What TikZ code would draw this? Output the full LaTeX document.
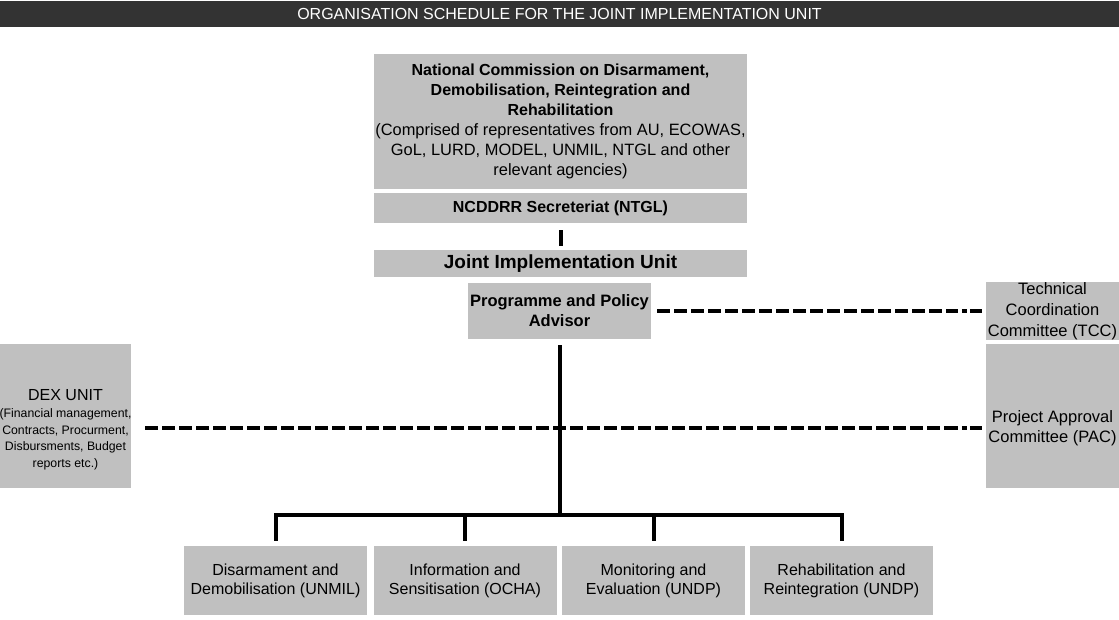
\documentclass[tikz,border=0pt]{standalone}
\usepackage{fontspec}
\setmainfont{Liberation Sans}
\definecolor{boxgray}{HTML}{C0C0C0}
\definecolor{bardark}{HTML}{333333}
\tikzset{
  box/.style={fill=boxgray, inner sep=0pt, align=center, text=black},
  boxtext/.style={inner sep=0pt, align=center, text=black},
  conn/.style={draw=black, line width=4pt},
  dashconn/.style={draw=black, line width=4pt, dash pattern=on 13pt off 4pt},
  dotconn/.style={draw=black, line width=4pt, dash pattern=on 5pt off 4pt on 5pt off 3pt on 12pt off 20pt},
}
\begin{document}
\begin{tikzpicture}[x=1pt,y=-1pt]
\useasboundingbox (0,0) rectangle (1119,619);
\fill[white] (0,0) rectangle (1119,619);
% title bar
\node[fill=bardark, inner sep=0pt, minimum width=1119pt, minimum height=26pt, text=white,
      font=\fontsize{16}{19}\selectfont] (title) at (559.5,14) {ORGANISATION SCHEDULE FOR THE JOINT IMPLEMENTATION UNIT};
% top hierarchy
\node[box, minimum width=373pt, minimum height=135pt, font=\fontsize{16.4}{20}\selectfont] (ncddrr) at (560.5,121.5)
  {{\bfseries\fontsize{16}{20}\selectfont National Commission on Disarmament,}\\
   {\bfseries\fontsize{16}{20}\selectfont Demobilisation, Reintegration and}\\
   {\bfseries\fontsize{16}{20}\selectfont Rehabilitation}\\
   (Comprised of representatives from AU, ECOWAS,\\
   GoL, LURD, MODEL, UNMIL, NTGL and other\\
   relevant agencies)};
\node[box, minimum width=373pt, minimum height=30pt, font=\bfseries\fontsize{16}{19}\selectfont] (sec) at (560.5,208) {NCDDRR Secreteriat (NTGL)};
\node[box, minimum width=373pt, minimum height=27pt, font=\bfseries\fontsize{19}{22}\selectfont] (jiu) at (560.5,263.5) {Joint Implementation Unit};
\node[box, minimum width=183pt, minimum height=56pt, font=\bfseries\fontsize{16.5}{20}\selectfont] (ppa) at (559.5,311) {Programme and Policy\\Advisor};
% side boxes
\node[box, minimum width=133pt, minimum height=56pt, font=\fontsize{16.5}{21}\selectfont] (tcc) at (1052.5,311) {Technical\\Coordination\\Committee (TCC)};
\node[box, minimum width=133pt, minimum height=144pt] (pac) at (1052.5,416) {};
\node[boxtext, font=\fontsize{16.5}{20}\selectfont] (pactext) at (1052.5,428) {Project Approval\\Committee (PAC)};
\node[box, minimum width=131pt, minimum height=144pt] (dex) at (65.5,416) {};
\node[boxtext, font=\fontsize{12.3}{16.7}\selectfont] (dextext) at (65.5,430)
  {{\fontsize{16}{18}\selectfont DEX UNIT}\\
   (Financial management,\\
   Contracts, Procurment,\\
   Disbursments, Budget\\
   reports etc.)};
% bottom boxes
\foreach \n/\x/\t in {b1/275.5/{Disarmament and\\Demobilisation (UNMIL)},
                       b2/465/{Information and\\Sensitisation (OCHA)},
                       b3/653.5/{Monitoring and\\Evaluation (UNDP)},
                       b4/841.5/{Rehabilitation and\\Reintegration (UNDP)}}
  \node[box, minimum width=183pt, minimum height=69pt, font=\fontsize{16}{19}\selectfont] (\n) at (\x,580.5) {\t};
% connectors
\draw[conn] ([yshift=-7pt]sec.south) -- ([yshift=4pt]jiu.north);
\coordinate (hub) at (559.5,514.5);
\draw[conn] ([yshift=-6pt]ppa.south) -- (hub);
\draw[conn, line join=miter] ([yshift=5pt]b1.north) |- (hub) -| ([yshift=5pt]b4.north);
\draw[conn] (b2.north |- hub) -- ([yshift=5pt]b2.north);
\draw[conn] (b3.north |- hub) -- ([yshift=5pt]b3.north);
% dashed links
\coordinate (dexlink) at (dex.east |- pactext.center);
\coordinate (paclink) at (pac.west |- pactext.center);
\draw[dashconn] ([xshift=6pt]ppa.east) -- ([xshift=-33pt]tcc.west);
\draw[dotconn] ([xshift=-33pt]tcc.west) -- ([xshift=-4pt]tcc.west);
\draw[dashconn] ([xshift=14pt]dexlink) -- ([xshift=-33pt]paclink);
\draw[dotconn] ([xshift=-33pt]paclink) -- ([xshift=-4pt]paclink);
\end{tikzpicture}
\end{document}
